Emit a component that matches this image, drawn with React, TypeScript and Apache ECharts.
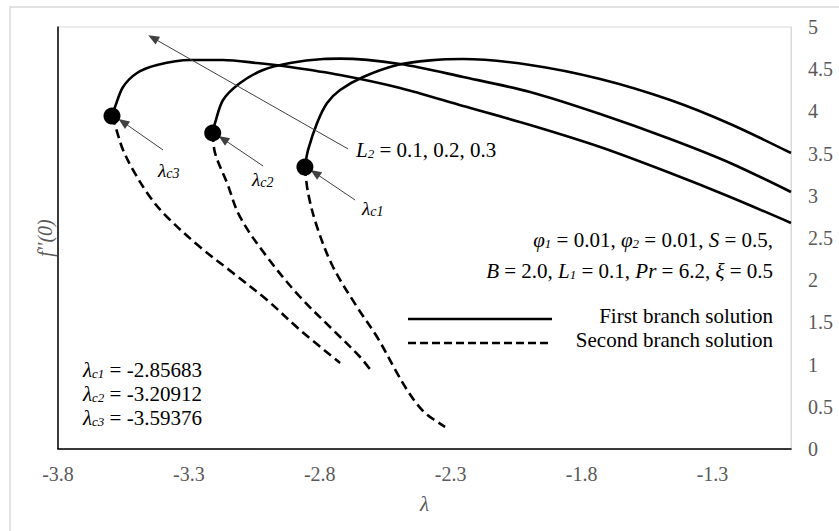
import React, { useEffect, useRef } from "react";
import * as echarts from "echarts";

// ---- data (λ, f''(0)) ----
const X_TICKS = [-3.8, -3.3, -2.8, -2.3, -1.8, -1.3];
const X_MIN = -3.8;
const X_MAX = -1.0;
const Y_MIN = 0;
const Y_MAX = 5;
const Y_STEP = 0.5;

const CRIT_LAMBDA = [-2.85683, -3.20912, -3.59376];
const CRIT_F = [3.341, 3.744, 3.945];

// first branch (solid), L2 = 0.1
const FIRST1_X = [-2.85683, -2.8447, -2.8103, -2.7721, -2.7224, -2.6345, -2.5046, -2.3785, -2.2524, -1.9964, -1.7289, -1.4614, -1.2322, -1.0];
const FIRST1_Y = [3.341, 3.543, 3.863, 4.1, 4.254, 4.408, 4.55, 4.605, 4.621, 4.55, 4.384, 4.135, 3.851, 3.507];
// first branch (solid), L2 = 0.2
const FIRST2_X = [-3.20912, -3.2001, -3.1695, -3.1045, -3.0167, -2.9135, -2.7874, -2.7224, -2.4932, -2.2524, -1.9964, -1.7289, -1.4614, -1.2322, -1.0];
const FIRST2_Y = [3.744, 3.863, 4.135, 4.336, 4.491, 4.573, 4.621, 4.625, 4.562, 4.408, 4.23, 3.969, 3.673, 3.389, 3.045];
// first branch (solid), L2 = 0.3
const FIRST3_X = [-3.59376, -3.5822, -3.5516, -3.4981, -3.4217, -3.2956, -3.1695, -3.0396, -2.9135, -2.7224, -2.4932, -2.2524, -1.9964, -1.7289, -1.4614, -1.2322, -1.0];
const FIRST3_Y = [3.945, 4.052, 4.289, 4.455, 4.55, 4.609, 4.609, 4.573, 4.526, 4.431, 4.277, 4.064, 3.839, 3.578, 3.27, 2.986, 2.678];

// second branch (dashed)
const SECOND1_X = [-2.85683, -2.8447, -2.8103, -2.7492, -2.6575, -2.5811, -2.5046, -2.4664, -2.432, -2.4015, -2.3671, -2.3212];
const SECOND1_Y = [3.341, 3.033, 2.63, 2.156, 1.682, 1.327, 0.9, 0.699, 0.545, 0.438, 0.355, 0.261];
const SECOND2_X = [-3.20912, -3.2001, -3.1542, -3.1045, -3.0014, -2.8753, -2.7492, -2.646, -2.6001];
const SECOND2_Y = [3.744, 3.507, 3.152, 2.749, 2.275, 1.801, 1.41, 1.09, 0.912];
const SECOND3_X = [-3.59376, -3.5822, -3.5707, -3.5516, -3.5134, -3.4485, -3.3835, -3.2574, -3.1313, -3.0014, -2.8753, -2.7224];
const SECOND3_Y = [3.945, 3.839, 3.72, 3.543, 3.306, 2.986, 2.749, 2.393, 2.085, 1.765, 1.41, 1.019];

// annotation arrows [tailX, tailY, headX, headY] in data units
const ARROW_L2 = [-2.6919, 3.555, -3.437, 4.87];
const ARROW_C1 = [-2.6651, 2.95, -2.818, 3.27];
const ARROW_C2 = [-3.0167, 3.353, -3.1695, 3.673];
const ARROW_C3 = [-3.3988, 3.543, -3.5516, 3.874];

const FONT = '"Liberation Serif", "Times New Roman", serif';
const GRAY = "#595959";

const zip = (xs: number[], ys: number[]) => xs.map((x, i) => [x, ys[i]]);

const solid = (name: string, xs: number[], ys: number[]) => ({
  type: "line",
  name,
  data: zip(xs, ys),
  showSymbol: false,
  symbol: "none",
  smooth: 0.3,
  lineStyle: { color: "#000", width: 2.6 },
  silent: true,
  z: 3,
});
const dashed = (name: string, xs: number[], ys: number[]) => ({
  type: "line",
  name,
  data: zip(xs, ys),
  showSymbol: false,
  symbol: "none",
  smooth: 0.35,
  lineStyle: { color: "#000", width: 2.6, type: [9, 5] },
  silent: true,
  z: 3,
});

const arrow = (a: number[]) => [
  { coord: [a[0], a[1]], symbol: "none" },
  { coord: [a[2], a[3]], symbol: "triangle", symbolSize: [9, 11] },
];

const mainText = { fontFamily: FONT, fontSize: 21, color: "#000", lineHeight: 24, verticalAlign: "middle" };
const italic = { ...mainText, fontStyle: "italic" };
const sub = { fontFamily: FONT, fontSize: 13, fontStyle: "italic", color: "#000", lineHeight: 24, verticalAlign: "bottom", padding: [0, 0, 2, 0] };
const faint = { ...mainText, color: "#d4d4d4" };
const richAll = { n: mainText, i: italic, s: sub, f: faint };

const smallLam = { fontFamily: FONT, fontSize: 19, fontStyle: "italic", color: "#000", lineHeight: 20, verticalAlign: "middle" };
const smallSub = { fontFamily: FONT, fontSize: 14, fontStyle: "italic", color: "#000", lineHeight: 20, verticalAlign: "bottom" };
const richSmall = { l: smallLam, s: smallSub };

export default function App() {
  const ref = useRef<HTMLDivElement>(null);
  useEffect(() => {
    if (!ref.current) return;
    const chart = echarts.init(ref.current, undefined, { renderer: "svg" });
    chart.setOption({
      animation: false,
      backgroundColor: "#fff",
      grid: { left: 58, top: 27, width: 733, height: 422, show: true, borderColor: "#d9d9d9", borderWidth: 1 },
      xAxis: [
        {
          type: "value",
          min: X_MIN,
          max: X_MAX,
          position: "bottom",
          axisLine: { show: true, lineStyle: { color: "#d9d9d9", width: 1 } },
          axisTick: { show: false },
          splitLine: { show: false },
          axisLabel: {
            customValues: X_TICKS,
            color: GRAY,
            fontFamily: FONT,
            fontSize: 20,
            margin: 15,
            formatter: (v: number) => v.toFixed(1),
          },
          name: "λ",
          nameLocation: "middle",
          nameGap: 44,
          nameTextStyle: { fontFamily: FONT, fontSize: 21, fontStyle: "italic", color: GRAY, verticalAlign: "top" },
        },
        {
          type: "value",
          min: X_MIN,
          max: X_MAX,
          position: "top",
          axisLine: { show: true, lineStyle: { color: "#000", width: 1.5 } },
          axisTick: { show: false },
          splitLine: { show: false },
          axisLabel: { show: false },
        },
      ],
      yAxis: [
        {
          type: "value",
          min: Y_MIN,
          max: Y_MAX,
          interval: Y_STEP,
          position: "right",
          axisLine: { show: true, lineStyle: { color: "#d9d9d9", width: 1 } },
          axisTick: { show: false },
          splitLine: { show: false },
          axisLabel: { color: GRAY, fontFamily: FONT, fontSize: 20, margin: 17 },
        },
        {
          type: "value",
          min: Y_MIN,
          max: Y_MAX,
          interval: Y_STEP,
          position: "left",
          axisLine: { show: true, lineStyle: { color: "#000", width: 1.5 } },
          axisTick: { show: false },
          splitLine: { show: false },
          axisLabel: { show: false },
          name: "f''(0)",
          nameLocation: "middle",
          nameRotate: 90,
          nameGap: 3,
          nameTextStyle: { fontFamily: FONT, fontSize: 20, fontStyle: "italic", color: GRAY },
        },
      ],
      series: [
        solid("First branch L2=0.1", FIRST1_X, FIRST1_Y),
        solid("First branch L2=0.2", FIRST2_X, FIRST2_Y),
        solid("First branch L2=0.3", FIRST3_X, FIRST3_Y),
        dashed("Second branch L2=0.1", SECOND1_X, SECOND1_Y),
        dashed("Second branch L2=0.2", SECOND2_X, SECOND2_Y),
        dashed("Second branch L2=0.3", SECOND3_X, SECOND3_Y),
        {
          type: "scatter",
          name: "Critical points",
          data: zip(CRIT_LAMBDA, CRIT_F),
          symbol: "circle",
          symbolSize: 17,
          itemStyle: { color: "#000", opacity: 1 },
          silent: true,
          z: 5,
          markLine: {
            silent: true,
            animation: false,
            label: { show: false },
            lineStyle: { color: "#404040", width: 1, type: "solid" },
            emphasis: { disabled: true },
            data: [arrow(ARROW_L2), arrow(ARROW_C1), arrow(ARROW_C2), arrow(ARROW_C3)],
          },
        },
      ],
      graphic: [
        {
          type: "rect",
          shape: { x: 10, y: 7, width: 840, height: 540 },
          style: { fill: "none", stroke: "#d9d9d9", lineWidth: 1.5 },
          silent: true,
          z: -1,
        },
        // L2 label
        {
          type: "text",
          x: 356,
          y: 150,
          style: { text: "{i|L}{s|2}{n| = 0.1, 0.2, 0.3}", rich: richAll, verticalAlign: "middle" },
          silent: true,
        },
        // critical point labels
        { type: "text", x: 158, y: 170, style: { text: "{l|λ}{s|c3}", rich: richSmall, verticalAlign: "middle" }, silent: true },
        { type: "text", x: 252, y: 179, style: { text: "{l|λ}{s|c2}", rich: richSmall, verticalAlign: "middle" }, silent: true },
        { type: "text", x: 362, y: 208, style: { text: "{l|λ}{s|c1}", rich: richSmall, verticalAlign: "middle" }, silent: true },
        // parameters
        {
          type: "text",
          x: 773,
          y: 240,
          style: {
            text: "{i|φ}{s|1}{n| = 0.01, }{i|φ}{s|2}{n| = 0.01, }{i|S}{n| = 0.5,}",
            rich: richAll,
            align: "right",
            verticalAlign: "middle",
          },
          silent: true,
        },
        {
          type: "text",
          x: 773,
          y: 271,
          style: {
            text: "{i|B}{n| = 2.0, }{i|L}{s|1}{n| = 0.1, }{i|Pr}{n| = 6.2, }{i|ξ}{n| = 0.5}",
            rich: richAll,
            align: "right",
            verticalAlign: "middle",
          },
          silent: true,
        },
        // legend
        { type: "line", shape: { x1: 408, y1: 319, x2: 552, y2: 319 }, style: { stroke: "#000", lineWidth: 2.6 }, silent: true },
        { type: "line", shape: { x1: 408, y1: 343, x2: 552, y2: 343 }, style: { stroke: "#000", lineWidth: 2.6, lineDash: [8, 4] }, silent: true },
        {
          type: "text",
          x: 773,
          y: 316,
          style: { text: "First branch solution", font: `21px ${FONT}`, fill: "#000", align: "right", verticalAlign: "middle" },
          silent: true,
        },
        {
          type: "text",
          x: 773,
          y: 340,
          style: { text: "Second branch solution", font: `21px ${FONT}`, fill: "#000", align: "right", verticalAlign: "middle" },
          silent: true,
        },
        // critical values
        { type: "text", x: 83, y: 370, style: { text: "{i|λ}{s|c1}{f| = }{n|-2.85683}", rich: richAll, verticalAlign: "middle" }, silent: true },
        { type: "text", x: 83, y: 394, style: { text: "{i|λ}{s|c2}{f| = }{n|-3.20912}", rich: richAll, verticalAlign: "middle" }, silent: true },
        { type: "text", x: 83, y: 418, style: { text: "{i|λ}{s|c3}{n| = -3.59376}", rich: richAll, verticalAlign: "middle" }, silent: true },
      ],
    });
    return () => chart.dispose();
  }, []);
  return <div ref={ref} style={{ position: "absolute", left: 0, top: 0, width: 839, height: 531 }} />;
}
